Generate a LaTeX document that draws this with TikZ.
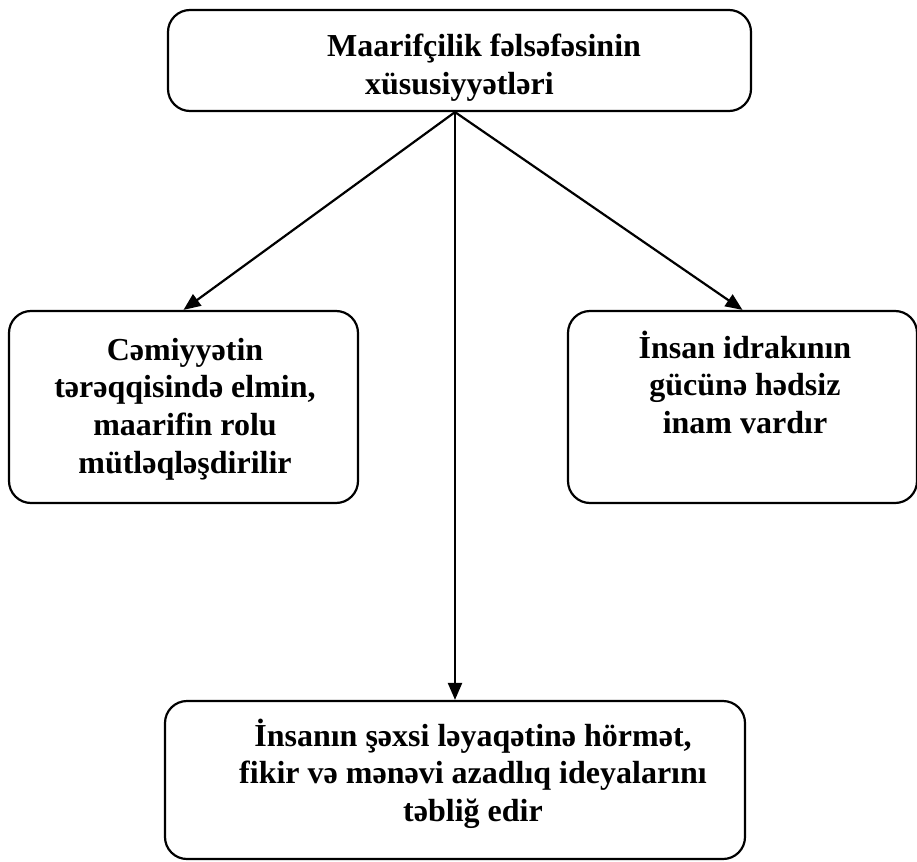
\documentclass[tikz,border=0pt]{standalone}
\usepackage{fontspec}
\setmainfont{Liberation Serif}
\usetikzlibrary{arrows.meta,calc}
\newcommand{\boxtxt}[2]{\begin{tabular}[t]{@{}#1@{}}#2\end{tabular}}
\begin{document}
\begin{tikzpicture}[x=1pt,y=-1pt,
  box/.style={draw=black,line width=2.2pt,rounded corners=22pt,inner sep=0pt},
  txt/.style={inner sep=0pt,font=\fontsize{32}{37.7}\selectfont\bfseries},
  conn/.style={line width=2.2pt,-{Triangle[length=17pt,width=14pt]}}]
\useasboundingbox (0,0) rectangle (917,861);
\node[box,minimum width=583pt,minimum height=101pt] (top) at (459.5,60.5) {};
\node[box,minimum width=349pt,minimum height=192pt] (lbox) at (183.5,407) {};
\node[box,minimum width=349pt,minimum height=192pt] (rbox) at (742.5,407) {};
\node[box,minimum width=580pt,minimum height=158pt] (bbox) at (455,780) {};
\node[txt,anchor=base west] (ttop) at (327,57) {\boxtxt{l}{Maarifçilik fəlsəfəsinin\\\hspace*{38pt}xüsusiyyətləri}};
\node[txt,anchor=base] (tleft) at (185,360) {\boxtxt{c}{Cəmiyyətin\\tərəqqisində elmin,\\maarifin rolu\\mütləqləşdirilir}};
\node[txt,anchor=base] (tright) at (745,358) {\boxtxt{c}{İnsan idrakının\\gücünə hədsiz\\inam vardır}};
\node[txt,anchor=base] (tbot) at (473,746) {\boxtxt{c}{İnsanın şəxsi ləyaqətinə hörmət,\\fikir və mənəvi azadlıq ideyalarını\\təbliğ edir}};
\coordinate (hub) at (top.south -| bbox.north);
\draw[conn] (hub) -- (lbox.north);
\draw[conn] (hub) -- (rbox.north);
\draw[conn] (hub) -- (bbox.north);
\end{tikzpicture}
\end{document}
